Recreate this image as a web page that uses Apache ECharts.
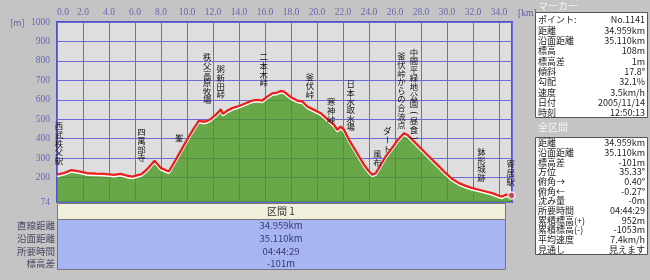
<!DOCTYPE html>
<html><head><meta charset="utf-8">
<script src="https://cdn.jsdelivr.net/npm/echarts@6/dist/echarts.min.js"></script>
<style>html,body{margin:0;padding:0;background:#c4c4c4}#c{width:650px;height:280px}</style>
</head><body><div id="c"></div>
<script>
// ---- profile data (distance km / elevation m) ----
const distKm = [0,0.5,1.1,1.7,2.3,3.0,3.6,4.4,4.9,5.4,5.8,6.5,6.9,7.5,8.0,8.6,9.13,9.64,10.15,10.54,10.92,11.18,11.44,11.82,12.21,12.46,12.59,12.77,13.1,13.48,14.0,14.52,15.02,15.41,15.79,16.18,16.56,16.95,17.21,17.46,17.98,18.48,18.87,19.25,19.77,20.28,20.79,21.31,21.56,21.82,22.08,22.46,22.85,23.23,23.62,24.0,24.25,24.52,24.9,25.28,25.67,26.18,26.69,26.95,27.33,27.85,28.36,28.87,29.38,29.9,30.41,30.92,31.44,31.95,32.46,32.98,33.48,34.0,34.25,34.52,34.7,34.959];
const elevM = [215,222,238,231,222,220,219,214,219,209,205,217,240,286,248,231,291,351,411,454,493,488,488,500,522,539,551,527,544,557,568,582,596,599,596,616,633,637,645,642,613,596,591,565,548,531,500,471,445,462,445,394,351,308,265,231,215,222,265,308,342,390,428,419,394,359,325,291,257,222,192,171,157,145,137,128,120,106,102,111,112,108];
const yTicks = [74,200,300,400,500,600,700,800,900,1000];

// ---- place-name annotations (top of the vertical label) ----
const annoNames = ['西武秩父駅','四萬部寺','峯','秩父高原牧場','粥新田峠','二本木峠','釜伏峠','寒神峠','日本水取水場','風布','ダート','釜伏峠からの合流点','中間平緑地公園(昼食)','鉢形城跡','寄居駅'];
const annoKm   = [0.15,6.5,9.4,11.55,12.6,15.9,19.45,21.1,22.6,24.65,25.4,26.5,27.45,32.65,34.9];
const annoTopM = [486,455,425,841,779,841,738,610,702,342,460,846,866,353,291];

// ---- marker point ----
const markerPt = [34.959,108];

// ---- section table ----
const sectionTitle = '区間 1';
const segRowLabels = ['直線距離','沿面距離','所要時間','標高差'];
const segRowValues = ['34.959km','35.110km','04:44:29','-101m'];

// ---- right panel ----
const panel1Title = 'マーカー';
const markerLabels = ['ポイント:','距離','沿面距離','標高','標高差','傾斜','勾配','速度','日付','時刻'];
const markerValues = ['No.1141','34.959km','35.110km','108m','1m','17.8°','32.1%','3.5km/h','2005/11/14','12:50:13'];
const panel2Title = '全区間';
const totalLabels = ['距離','沿面距離','標高差','方位','俯角→','俯角←','沈み量','所要時間','累積標高(+)','累積標高(-)','平均速度','見通し'];
const totalValues = ['34.959km','35.110km','-101m','35.33°','0.40°','-0.27°','-0m','04:44:29','952m','-1053m','7.4km/h','見えます'];

const JP = '"Noto Sans CJK JP", sans-serif';
const AX = '"Liberation Serif", serif';
const g = [];
function txt(x, y, text, o) {
  o = o || {};
  g.push({type:'text', x:x, y:y, silent:true, z:20,
    style:{text:text, fill:o.fill||'#222', font:(o.size||10)+'px '+JP, lineHeight:o.lh||9,
      align:o.align||'left', verticalAlign:'middle', textAlign:o.align||'left', textVerticalAlign:'middle'}});
}
function rect(x, y, w, h, fill, stroke) {
  g.push({type:'rect', silent:true, z:10, shape:{x:x,y:y,width:w,height:h}, style:{fill:fill, stroke:stroke, lineWidth:1}});
}
// axis units
txt(10, 23, '[m]', {fill:'#5a5aa0', size:9});
g.push({type:'text', x:518, y:13, silent:true, z:20,
  style:{text:'[km]', fill:'#5a5aa0', font:'9.5px '+AX, align:'left', verticalAlign:'middle', textAlign:'left', textVerticalAlign:'middle'}});
// section table
rect(57.5, 203.5, 448, 16, '#f1eedb', '#777');
rect(57.5, 219.5, 448, 50, '#a7b5f3', '#777');
txt(281, 211.5, sectionTitle, {align:'center', size:10, fill:'#333', lh:12});
segRowLabels.forEach(function(l,i){
  const y = 225.7 + i*12.6;
  txt(55, y, l, {align:'right', size:9.5, fill:'#4a4a66', lh:11});
  txt(281, y, segRowValues[i], {align:'center', size:9.5, fill:'#3a3a70', lh:11});
});
// right panel
txt(538, 6, panel1Title, {size:10, fill:'#f4f4f4', lh:10});
rect(535.5, 12.5, 112, 105, '#ffffff', '#555');
markerLabels.forEach(function(l,i){
  const y = 20 + i*10.3;
  txt(538, y, l, {size:9});
  txt(645, y, markerValues[i], {size:9, align:'right'});
});
txt(538, 127, panel2Title, {size:10, fill:'#f4f4f4', lh:10});
rect(535.5, 137.5, 112, 117, '#ffffff', '#555');
totalLabels.forEach(function(l,i){
  const y = 142.7 + i*9.7;
  txt(538, y, l, {size:9, lh:9});
  txt(645, y, totalValues[i], {size:9, align:'right', lh:9});
});

const chart = echarts.init(document.getElementById('c'), null, {renderer:'canvas'});
chart.setOption({
  backgroundColor:'#c4c4c4',
  animation:false,
  grid:{left:57, top:22, right:138, bottom:78, show:true, backgroundColor:'#dedede', borderColor:'#5252c4', borderWidth:2},
  xAxis:{type:'value', position:'top', min:0, max:35, interval:2,
    axisLine:{show:false}, axisTick:{show:false},
    axisLabel:{color:'#6868b0', fontSize:9.5, fontFamily:AX, margin:5, showMaxLabel:false, alignMinLabel:'left',
      formatter:function(v){ return v >= 35 ? '' : v.toFixed(1); }},
    splitLine:{show:true, lineStyle:{color:'#6a6ad8', width:1}}},
  yAxis:{type:'value', min:74, max:1000,
    axisLine:{show:false},
    axisTick:{show:false, customValues:yTicks},
    axisLabel:{color:'#6868b0', fontSize:9.5, fontFamily:AX, margin:7, customValues:yTicks,
      formatter:function(v){ return String(v); }},
    splitLine:{show:true, lineStyle:{color:'#6a6ad8', width:1}}},
  graphic:g,
  series:[
    {type:'line', data:distKm.map(function(d,i){return [d, elevM[i]];}), showSymbol:false, symbol:'none', z:3,
      lineStyle:{color:'#e8201c', width:2.3, shadowColor:'#ffffff', shadowOffsetY:1.5, shadowBlur:0},
      areaStyle:{color:'#4a9a22', opacity:0.8}},
    {type:'scatter', data:[markerPt], symbolSize:7, z:7,
      itemStyle:{color:'#c84848', borderColor:'#ffffff', borderWidth:1.5}}
  ]
});

// vertical place-name labels: one character per line, anchored through the chart's own scales
const PITCH = 8.6;
const rotChars = 'ー()（）';
const annoG = [];
annoNames.forEach(function(name, i){
  const p = chart.convertToPixel({gridIndex:0}, [annoKm[i], annoTopM[i]]);
  name.split('').forEach(function(ch, j){
    annoG.push({type:'text', x:p[0], y:p[1] + j*PITCH + PITCH/2, silent:true, z:15,
      rotation: rotChars.indexOf(ch) >= 0 ? -Math.PI/2 : 0,
      style:{text:ch, fill:'#111', font:'8.4px '+JP, lineHeight:8.4,
        align:'center', verticalAlign:'middle', textAlign:'center', textVerticalAlign:'middle'}});
  });
});
chart.setOption({graphic: g.concat(annoG)});
</script>
</body></html>
